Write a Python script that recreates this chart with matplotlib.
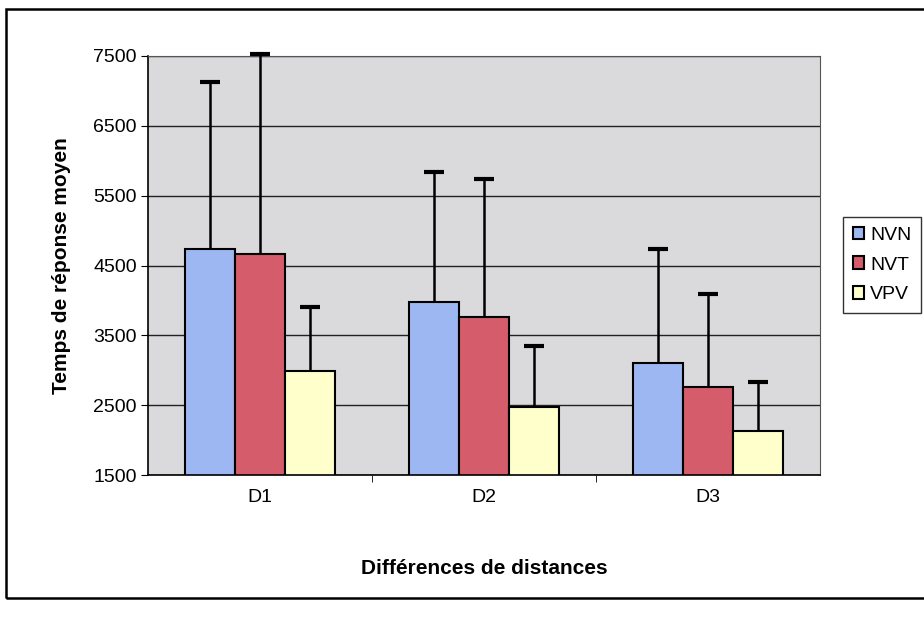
import numpy as np
import matplotlib.pyplot as plt
from matplotlib.patches import Rectangle

plt.rcParams['font.family'] = ['Liberation Sans', 'DejaVu Sans']

categories = ['D1', 'D2', 'D3']
series = ['NVN', 'NVT', 'VPV']
nvn = [4740, 3975, 3110]
nvt = [4670, 3760, 2760]
vpv = [2990, 2475, 2135]
nvn_err = [2390, 1865, 1630]
nvt_err = [2860, 1980, 1330]
vpv_err = [915, 875, 690]
colors = ['#9db7f2', '#d55d6b', '#ffffcc']

fig = plt.figure(figsize=(9.24, 6.17), dpi=100)
ax = fig.add_axes([148 / 924, 1 - 475 / 617, 672 / 924, 419 / 617])
ax.set_facecolor('#dadadc')

x = np.arange(len(categories))
w = 1 / 4.5
values = [nvn, nvt, vpv]
errors = [nvn_err, nvt_err, vpv_err]
for i, (vals, errs) in enumerate(zip(values, errors)):
    pos = x + (i - 1) * w
    ax.bar(pos, vals, w, bottom=0, color=colors[i], edgecolor='black',
           linewidth=1.5, label=series[i], zorder=2)
    eb = ax.errorbar(pos, vals, yerr=[np.zeros(len(vals)), errs], fmt='none',
                     ecolor='black', elinewidth=1.8, capsize=7, capthick=3,
                     zorder=3)
    # only the upper cap, like the original
    eb.lines[1][0].set_visible(False)
    for art in list(eb.lines[1]) + list(eb.lines[2]):
        art.set_clip_on(False)

ax.set_ylim(1500, 7500)
ax.set_xlim(-0.5, 2.5)
ax.set_yticks(np.arange(1500, 7501, 1000))
ax.yaxis.grid(True, color='#222222', linewidth=1, zorder=1)
ax.set_axisbelow(True)
ax.tick_params(axis='y', labelsize=14, length=5, direction='out', pad=3)
ax.set_xticks(x)
ax.set_xticklabels(categories)
ax.set_xticks([0.5, 1.5], minor=True)
ax.tick_params(axis='x', which='major', length=0, labelsize=14, pad=10)
ax.tick_params(axis='x', which='minor', length=5, direction='out')
for s in ['top', 'right']:
    ax.spines[s].set_color('#555555')
for s in ['left', 'bottom']:
    ax.spines[s].set_color('black')
    ax.spines[s].set_linewidth(1.2)

ax.set_ylabel('Temps de réponse moyen', fontsize=15, fontweight='bold',
              labelpad=16)
ax.set_xlabel('Différences de distances', fontsize=15, fontweight='bold',
              labelpad=38)

ax.legend(loc='center left', bbox_to_anchor=(843 / 924, 1 - 265 / 617),
          bbox_transform=fig.transFigure, frameon=True, fancybox=False,
          edgecolor='black', fontsize=14, handlelength=0.6, handleheight=0.6,
          handletextpad=0.3, labelspacing=0.65, borderpad=0.5,
          borderaxespad=0)

fig.patches.append(Rectangle((6 / 924, 1 - 598 / 617), 930 / 924, 589 / 617,
                             transform=fig.transFigure, fill=False,
                             edgecolor='black', linewidth=1.8))

fig.savefig('out.png', dpi=100)
